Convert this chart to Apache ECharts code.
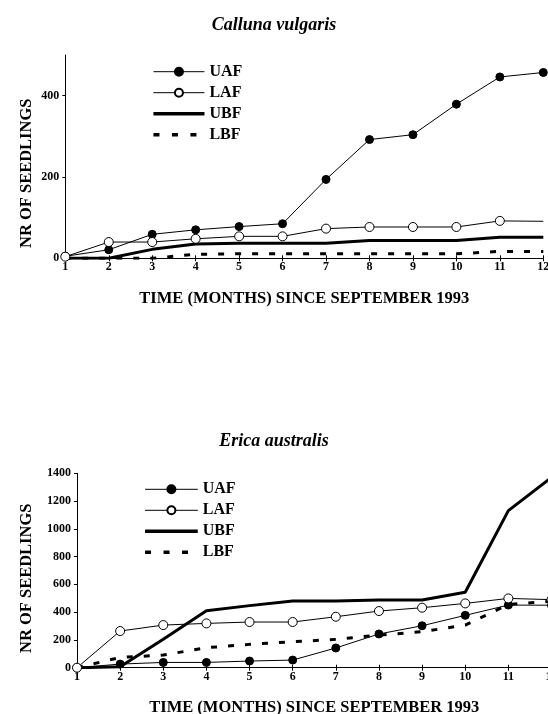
<!DOCTYPE html>
<html><head><meta charset="utf-8">
<script src="https://cdn.jsdelivr.net/npm/echarts@6/dist/echarts.min.js"></script>
<style>html,body{margin:0;padding:0;background:#fff}#c{width:548px;height:714px}</style>
</head><body><div id="c"></div>
<script>
const months = [1,2,3,4,5,6,7,8,9,10,11,12];
const seriesNames = ['UAF','LAF','UBF','LBF'];

const callunaUAF = [5, 21, 59, 70, 78, 85, 194, 292, 304, 379, 446, 457];
const callunaLAF = [4, 40, 40, 48, 54, 54, 73, 77, 77, 77, 92, 91];
const callunaUBF = [0, 0, 22, 35, 37, 37, 37, 44, 44, 44, 52, 52];
const callunaLBF = [0, 0, 0, 10, 11, 11, 11, 11, 11, 11, 17, 17];

const ericaUAF = [0, 26, 38, 38, 48, 55, 142, 243, 302, 377, 451, 450];
const ericaLAF = [0, 264, 307, 319, 329, 329, 367, 408, 432, 463, 499, 490];
const ericaUBF = [0, 7, 205, 410, 447, 480, 480, 487, 487, 543, 1131, 1370];
const ericaLBF = [0, 74, 91, 144, 168, 187, 204, 235, 259, 307, 455, 478];

const callunaYTicks = [0, 200, 400];
const ericaYTicks = [0, 200, 400, 600, 800, 1000, 1200, 1400];

const titles = ['Calluna vulgaris', 'Erica australis'];
const xTitle = 'TIME (MONTHS) SINCE SEPTEMBER 1993';
const yTitle = 'NR OF SEEDLINGS';

const FONT = '"Liberation Serif", "Times New Roman", serif';
const BLACK = '#000';

function pts(vals, hideLast) {
  return vals.map((v, i) => {
    if (hideLast && i === vals.length - 1) return { value: [months[i], v], symbol: 'none' };
    return [months[i], v];
  });
}

function makeSeries(chartIdx, sets) {
  const xi = chartIdx * 2, yi = chartIdx;
  return [
    { name: 'UAF', type: 'line', xAxisIndex: xi, yAxisIndex: yi, data: pts(sets[0]),
      symbol: 'circle', symbolSize: 8, lineStyle: { color: BLACK, width: 1 },
      itemStyle: { color: BLACK, borderColor: BLACK, borderWidth: 1 } },
    { name: 'LAF', type: 'line', xAxisIndex: xi, yAxisIndex: yi, data: pts(sets[1], chartIdx === 0),
      symbol: 'circle', symbolSize: 9, lineStyle: { color: BLACK, width: 1 },
      itemStyle: { color: '#fff', borderColor: BLACK, borderWidth: 1 } },
    { name: 'UBF', type: 'line', xAxisIndex: xi, yAxisIndex: yi, data: pts(sets[2]),
      symbol: 'none', lineStyle: { color: BLACK, width: 3 }, itemStyle: { color: BLACK } },
    { name: 'LBF', type: 'line', xAxisIndex: xi, yAxisIndex: yi, data: pts(sets[3]),
      symbol: 'none', lineStyle: { color: BLACK, width: 3, type: [6, 11], cap: 'butt' }, itemStyle: { color: BLACK } }
  ];
}

const plain = v => String(v);

function xAxes(gridIndex) {
  const base = { type: 'value', gridIndex, min: 1, max: 12, interval: 1, position: 'bottom', splitLine: { show: false } };
  return [
    Object.assign({}, base, {
      axisLine: { show: true, lineStyle: { color: BLACK, width: 1 } },
      axisTick: { show: true, inside: false, length: 3, lineStyle: { color: BLACK } },
      axisLabel: { show: true, margin: 3, formatter: plain, hideOverlap: false, showMinLabel: true, showMaxLabel: true,
        color: BLACK, fontFamily: FONT, fontWeight: 'bold', fontSize: 12 },
      name: xTitle, nameLocation: 'middle', nameGap: 32,
      nameTextStyle: { color: BLACK, fontFamily: FONT, fontWeight: 'bold', fontSize: 16.5 }
    }),
    Object.assign({}, base, {
      axisLine: { show: false },
      axisTick: { show: true, inside: true, length: 3, lineStyle: { color: BLACK } },
      axisLabel: { show: false }
    })
  ];
}

function yAxis(gridIndex, max, ticks) {
  return {
    type: 'value', gridIndex, min: 0, max, interval: 200,
    splitLine: { show: false },
    axisLine: { show: true, lineStyle: { color: BLACK, width: 1 } },
    axisTick: { show: true, inside: false, length: 3, customValues: ticks, lineStyle: { color: BLACK } },
    axisLabel: { show: true, margin: 6, customValues: ticks, formatter: plain,
      color: BLACK, fontFamily: FONT, fontWeight: 'bold', fontSize: 12 }
  };
}

function legend(left, top, itemWidth) {
  return {
    orient: 'vertical', left, top, itemWidth, itemHeight: 10, itemGap: 5,
    selectedMode: false, padding: 0,
    textStyle: { color: BLACK, fontFamily: FONT, fontWeight: 'bold', fontSize: 16 },
    data: [
      { name: 'UAF', lineStyle: { width: 1 } },
      { name: 'LAF', lineStyle: { width: 1 } },
      { name: 'UBF', lineStyle: { width: 3.5 }, itemStyle: { opacity: 0 } },
      { name: 'LBF', lineStyle: { width: 3.5, type: [6, 12.5] }, itemStyle: { opacity: 0 } }
    ]
  };
}

const chart = echarts.init(document.getElementById('c'), null, { renderer: 'canvas' });
chart.setOption({
  animation: false,
  backgroundColor: '#fff',
  title: titles.map((t, i) => ({
    text: t, left: 'center', top: i === 0 ? 16 : 432, padding: 0,
    textStyle: { color: BLACK, fontFamily: FONT, fontStyle: 'italic', fontWeight: 'bold', fontSize: 18 }
  })),
  grid: [
    { left: 65.3, right: 4.7, top: 55, bottom: 455.7, containLabel: false, outerBoundsMode: 'none' },
    { left: 77, right: -3.5, top: 473.3, bottom: 46.3, containLabel: false, outerBoundsMode: 'none' }
  ],
  legend: [legend(151.7, 63.7, 51), legend(143.3, 481.3, 52.7)],
  xAxis: xAxes(0).concat(xAxes(1)),
  yAxis: [yAxis(0, 500, callunaYTicks), yAxis(1, 1400, ericaYTicks)],
  graphic: [
    { type: 'text', x: 27, y: 173.3, rotation: Math.PI / 2,
      style: { text: yTitle, fill: BLACK, font: 'bold 16.5px ' + FONT, align: 'center', verticalAlign: 'middle' } },
    { type: 'text', x: 27, y: 578.3, rotation: Math.PI / 2,
      style: { text: yTitle, fill: BLACK, font: 'bold 16.5px ' + FONT, align: 'center', verticalAlign: 'middle' } }
  ],
  series: makeSeries(0, [callunaUAF, callunaLAF, callunaUBF, callunaLBF])
    .concat(makeSeries(1, [ericaUAF, ericaLAF, ericaUBF, ericaLBF]))
});
</script>
</body></html>
